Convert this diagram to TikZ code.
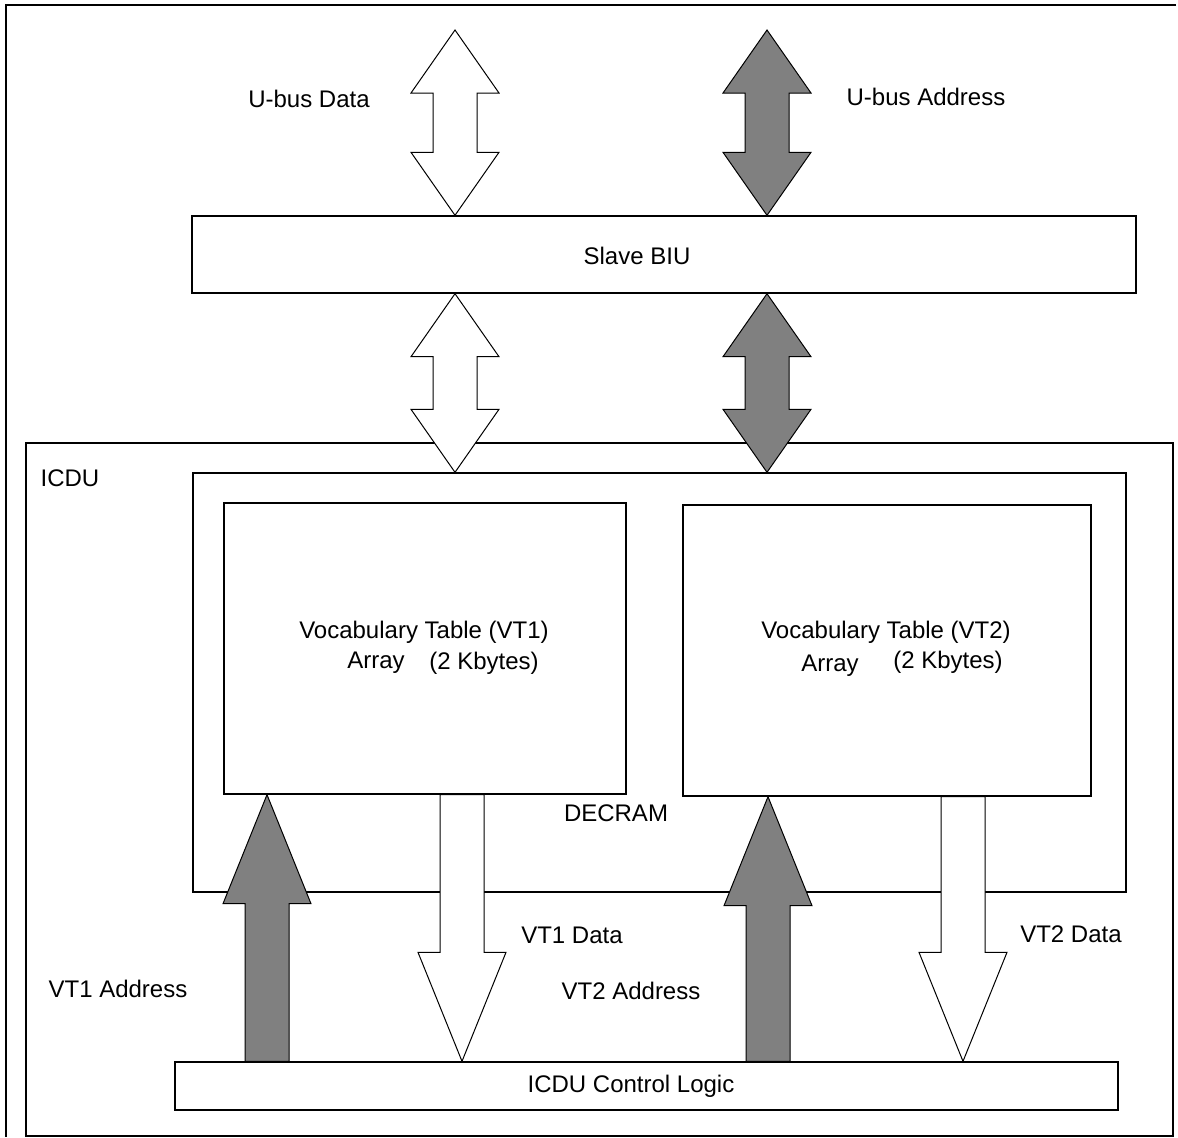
\documentclass[tikz,border=0pt]{standalone}
\usepackage{fontspec}
\setmainfont{Liberation Sans}
\usetikzlibrary{calc,fit}

\tikzset{
  box/.style={draw,line width=0.7pt,inner sep=0pt,fill=white},
  lbl/.style={inner sep=0pt,font=\fontsize{12}{14}\selectfont},
  busw/.style={draw,line width=0.5pt,fill=white},
  busg/.style={draw,line width=0.5pt,fill=gray}
}

% double bus: top tip, bottom tip, style
\newcommand{\dblbus}[3]{%
  \path[#3] (#1) -- ++(44,63) -- ++(-22,0) -- ($(#2)+(22,-63)$) -- ++(22,0) -- (#2)
    -- ++(-44,-63) -- ++(22,0) -- ($(#1)+(-22,63)$) -- ++(-22,0) -- cycle;}
% single bus up: base, tip, style
\newcommand{\upbus}[3]{%
  \path[#3] (#2) -- ++(44,109) -- ++(-22,0) -- ($(#1)+(22,0)$) -- ++(-44,0)
    -- ($(#2)+(-22,109)$) -- ++(-22,0) -- cycle;}
% single bus down: base, tip, style
\newcommand{\downbus}[3]{%
  \path[#3] (#2) -- ++(44,-109) -- ++(-22,0) -- ($(#1)+(22,0)$) -- ++(-44,0)
    -- ($(#2)+(-22,-109)$) -- ++(-22,0) -- cycle;}

\begin{document}
\begin{tikzpicture}[x=0.5pt,y=-0.5pt]

\useasboundingbox (0,0) rectangle (1178,1137);

\draw [line width=0.7pt] (1176,5) -- (6,5) -- (6,1137);

% blocks
\node [box,fit={(26,443) (1173,1136)}] (icdu) {};
\node [box,fit={(192,216) (1136,293)}] (biu) {};
\node [box,fit={(193,473) (1126,892)}] (decram) {};
\node [box,fit={(224,503) (626,794)}] (vt1) {};
\node [box,fit={(683,505) (1091,796)}] (vt2) {};
\node [box,fit={(175,1062) (1118,1110)}] (logic) {};

% buses
\coordinate (ud) at (455,30);
\coordinate (ua) at (767,30);
\coordinate (a1) at (267,0);
\coordinate (d1) at (462,0);
\coordinate (a2) at (768,0);
\coordinate (d2) at (963,0);

\dblbus{ud}{ud |- biu.north}{busw}
\dblbus{ua}{ua |- biu.north}{busg}
\dblbus{ud |- biu.south}{ud |- decram.north}{busw}
\dblbus{ua |- biu.south}{ua |- decram.north}{busg}

\upbus{a1 |- logic.north}{a1 |- vt1.south}{busg}
\downbus{d1 |- vt1.south}{d1 |- logic.north}{busw}
\upbus{a2 |- logic.north}{a2 |- vt2.south}{busg}
\downbus{d2 |- vt2.south}{d2 |- logic.north}{busw}

% labels
\node [lbl] (udtxt) at (309,99) {U-bus Data};
\node [lbl] (uatxt) at (926,97) {U-bus Address};
\node [lbl] (biutxt) at (637,256) {Slave BIU};
\node [lbl] (icdutxt) at (70,478) {ICDU};
\node [lbl] (vt1name) at (424,632) {Vocabulary Table (VT1)};
\node [lbl] (vt1arr) at (376,663) {Array};
\node [lbl] (vt1size) at (484,663) {(2 Kbytes)};
\node [lbl] (vt2name) at (886,632) {Vocabulary Table (VT2)};
\node [lbl] (vt2arr) at (830,666) {Array};
\node [lbl] (vt2size) at (948,662) {(2 Kbytes)};
\node [lbl] (dectxt) at (616,813) {DECRAM};
\node [lbl] (d1txt) at (572,935) {VT1 Data};
\node [lbl] (d2txt) at (1071,934) {VT2 Data};
\node [lbl] (a1txt) at (118,989) {VT1 Address};
\node [lbl] (a2txt) at (631,991) {VT2 Address};
\node [lbl] (logictxt) at (631,1086) {ICDU Control Logic};

\end{tikzpicture}
\end{document}
